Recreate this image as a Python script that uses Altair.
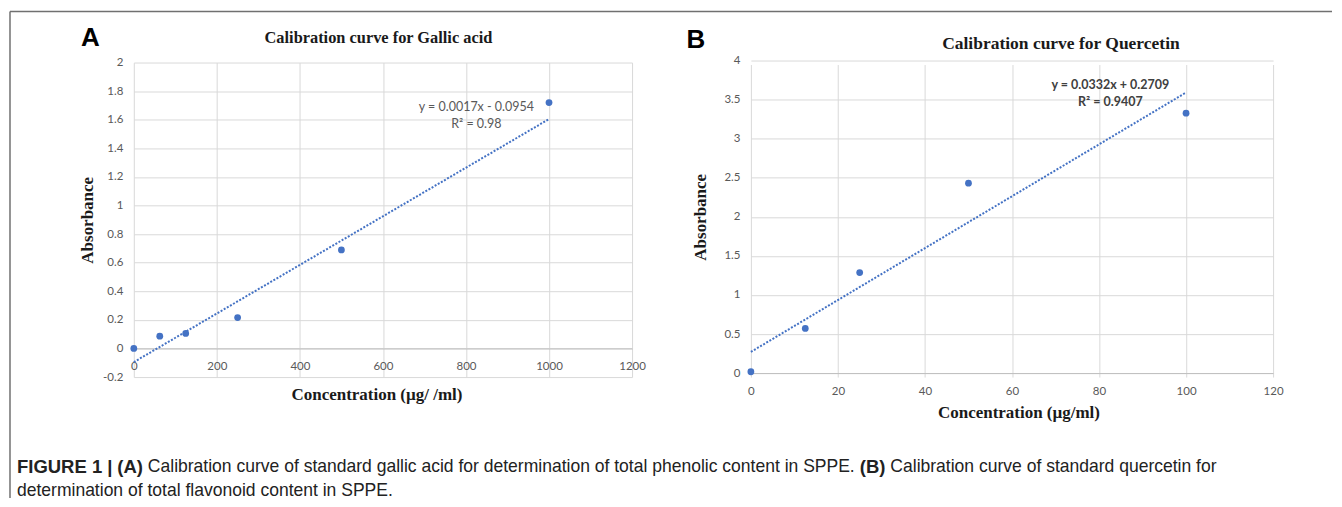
import altair as alt
import pandas as pd

# ---------------- data ----------------
gallic_conc = [0, 62.5, 125, 250, 500, 1000]
gallic_abs = [0.0, 0.086, 0.105, 0.216, 0.689, 1.72]
gallic_trend_x = [0, 1000]
gallic_trend_y = [-0.0954, 1.6046]
gallic_x_ticks = [0, 200, 400, 600, 800, 1000, 1200]
gallic_y_ticks = [-0.2, 0, 0.2, 0.4, 0.6, 0.8, 1, 1.2, 1.4, 1.6, 1.8, 2]
gallic_eq = ["y = 0.0017x - 0.0954", "R\u00b2 = 0.98"]
gallic_eq_x = [825, 825]
gallic_eq_y = [1.686, 1.567]

quer_conc = [0, 12.5, 25, 50, 100]
quer_abs = [0.017, 0.571, 1.287, 2.43, 3.327]
quer_trend_x = [0, 100]
quer_trend_y = [0.2709, 3.5909]
quer_x_ticks = [0, 20, 40, 60, 80, 100, 120]
quer_y_ticks = [0, 0.5, 1, 1.5, 2, 2.5, 3, 3.5, 4]
quer_eq = ["y = 0.0332x + 0.2709", "R\u00b2 = 0.9407"]
quer_eq_x = [82.6, 82.6]
quer_eq_y = [3.693, 3.463]

caption_line1 = [
    ("FIGURE 1 |", True),
    ("(A)", True),
    ("Calibration curve of standard gallic acid for determination of total phenolic content in SPPE.", False),
    ("(B)", True),
    ("Calibration curve of standard quercetin for", False),
]
caption_line2 = [("determination of total flavonoid content in SPPE.", False)]

# ---------------- styling ----------------
BLUE = "#4472C4"
GRID = "#D9D9D9"
LABEL_FONT = "Lato"
SERIF = "Liberation Serif"
SANS = "Liberation Sans"
FRAME = "#707070"

# Helvetica/Arial advance widths (per 1000 em) for caption layout
REG = {' ': 278, '.': 278, '(': 333, ')': 333, '|': 260, '1': 556,
       'A': 667, 'B': 667, 'C': 722, 'E': 667, 'F': 611, 'G': 778, 'I': 278,
       'P': 667, 'R': 722, 'S': 667, 'U': 722,
       'a': 556, 'b': 556, 'c': 500, 'd': 556, 'e': 556, 'f': 278, 'g': 556,
       'h': 556, 'i': 222, 'j': 222, 'k': 500, 'l': 222, 'm': 833, 'n': 556,
       'o': 556, 'p': 556, 'q': 556, 'r': 333, 's': 500, 't': 278, 'u': 556,
       'v': 500, 'w': 722, 'x': 500, 'y': 500, 'z': 500}
BOLD = dict(REG)
BOLD.update({'|': 280, 'A': 722, 'B': 722, 'E': 667, 'F': 611, 'G': 778,
             'I': 278, 'R': 722, 'U': 722})


def text_width(s, bold, size):
    table = BOLD if bold else REG
    return sum(table.get(ch, 556) for ch in s) * size / 1000.0


def xaxis(values, title, title_x, title_y, offset=0):
    return alt.Axis(values=values, title=title, labelExpr="toString(datum.value)",
                    grid=True, gridColor=GRID, gridWidth=1, ticks=False, tickSize=0,
                    domain=True, domainColor="#BFBFBF", domainWidth=1,
                    labelFont=LABEL_FONT, labelFontSize=11.5, labelColor="#595959",
                    labelPadding=12, labelFlush=False, labelOverlap=False,
                    titleFont=SERIF, titleFontSize=17, titleFontWeight="bold",
                    titleColor="#1a1a1a", titleX=title_x, titleY=title_y,
                    titleAlign="center", titleBaseline="middle", offset=offset)


def yaxis(values, title_x, title_y):
    return alt.Axis(values=values, title="Absorbance", labelExpr="toString(datum.value)",
                    grid=True, gridColor=GRID, gridWidth=1, ticks=False, tickSize=0,
                    domain=False, labelFont=LABEL_FONT, labelFontSize=11.5,
                    labelColor="#595959", labelPadding=11, labelFlush=False,
                    labelOverlap=False, titleFont=SERIF, titleFontSize=17,
                    titleFontWeight="bold", titleColor="#1a1a1a", titleX=title_x,
                    titleY=title_y, titleAngle=270, titleAlign="center",
                    titleBaseline="middle")


def panel(conc, absb, tx, ty, xt, yt, xdom, ydom, yrange, eq, eqx, eqy, xtitle,
          x_axis_offset, xtitle_x, xtitle_y, ytitle_x, ytitle_y, eq_bold, eq_color,
          width, height, title, title_size, title_dx, title_offset):
    X = alt.X("x:Q", scale=alt.Scale(domain=xdom, nice=False, zero=False),
              axis=xaxis(xt, xtitle, xtitle_x, xtitle_y, x_axis_offset))
    Y = alt.Y("y:Q", scale=alt.Scale(domain=ydom, range=yrange, nice=False, zero=False),
              axis=yaxis(yt, ytitle_x, ytitle_y))
    pts = alt.Chart(pd.DataFrame({"x": conc, "y": absb})).mark_circle(
        size=46, color=BLUE, opacity=1).encode(x=X, y=Y)
    trend = alt.Chart(pd.DataFrame({"x": tx, "y": ty})).mark_line(
        color=BLUE, strokeWidth=2, strokeDash=[2, 1.6]).encode(x=X, y=Y)
    eqc = alt.Chart(pd.DataFrame({"x": eqx, "y": eqy, "t": eq})).mark_text(
        font=LABEL_FONT, fontSize=12.5, fontWeight="bold" if eq_bold else "normal",
        color=eq_color, align="center", baseline="middle").encode(x=X, y=Y, text="t:N")
    return alt.layer(trend, pts, eqc).properties(
        width=width, height=height,
        title=alt.TitleParams(title, font=SERIF, fontSize=title_size, fontWeight="bold",
                              color="#1a1a1a", frame="group", anchor="middle",
                              dx=title_dx, offset=title_offset, baseline="alphabetic"))


left = panel(gallic_conc, gallic_abs, gallic_trend_x, gallic_trend_y, gallic_x_ticks,
             gallic_y_ticks, [0, 1200], [-0.2, 2], [315, 0], gallic_eq, gallic_eq_x,
             gallic_eq_y, "Concentration (\u00b5g/ /ml)", -28.6, 243, 45.6, -46, 157.5,
             False, "#595959", 499, 315, "Calibration curve for Gallic acid", 16.4, -4.5, -3)

right = panel(quer_conc, quer_abs, quer_trend_x, quer_trend_y, quer_x_ticks, quer_y_ticks,
              [0, 120], [0, 4], [311, -2], quer_eq, quer_eq_x, quer_eq_y,
              "Concentration (\u00b5g/ml)", -2, 268, 39, -50, 154.5, True, "#404040",
              523, 313, "Calibration curve for Quercetin", 17.5, 49, -12)

# caption panel (also carries the figure frame and the panel letters)
CAP_TOP = 390          # caption panel top, relative to left plot top
CAP_REG = 17.55
CAP_BOLD = 18.5
CAP_X0 = -117
space = text_width(" ", False, CAP_REG)
one = alt.Data(values=[{}])
cap_layers = []
for line, ypos in ((caption_line1, 15), (caption_line2, 39)):
    xpos = CAP_X0
    for seg, bold in line:
        size = CAP_BOLD if bold else CAP_REG
        cap_layers.append(
            alt.Chart(one).mark_text(
                text=seg, font=SANS, fontSize=size,
                fontWeight="bold" if bold else "normal", color="#222222",
                align="left", baseline="middle").encode(x=alt.value(xpos), y=alt.value(ypos)))
        xpos += text_width(seg, bold, size) + space

for letter, lx, ly in (("A", -43.5, -25 - CAP_TOP), ("B", 618 - 55, -23 - CAP_TOP)):
    cap_layers.append(
        alt.Chart(one).mark_text(text=letter, font=SANS, fontSize=26, fontWeight="bold",
                                 color="#000000", align="center", baseline="middle")
        .encode(x=alt.value(lx), y=alt.value(ly)))

cap_layers.append(alt.Chart(one).mark_rule(color=FRAME, strokeWidth=1.5).encode(
    x=alt.value(-124), x2=alt.value(1200), y=alt.value(-51 - CAP_TOP)))
cap_layers.append(alt.Chart(one).mark_rule(color=FRAME, strokeWidth=1.5).encode(
    x=alt.value(-124), y=alt.value(-51 - CAP_TOP), y2=alt.value(436 - CAP_TOP)))

caption = alt.layer(*cap_layers).properties(width=499, height=40)

chart = alt.concat(left, right, caption, columns=2,
                   spacing={"row": CAP_TOP - 315, "column": 119}, bounds="flush",
                   align="each").properties(
    padding={"left": 0, "top": 1.25, "right": 0, "bottom": 0},
    background="white").configure_view(stroke="transparent")

chart.save("out.html", embed_options={"renderer": "svg", "actions": False})
